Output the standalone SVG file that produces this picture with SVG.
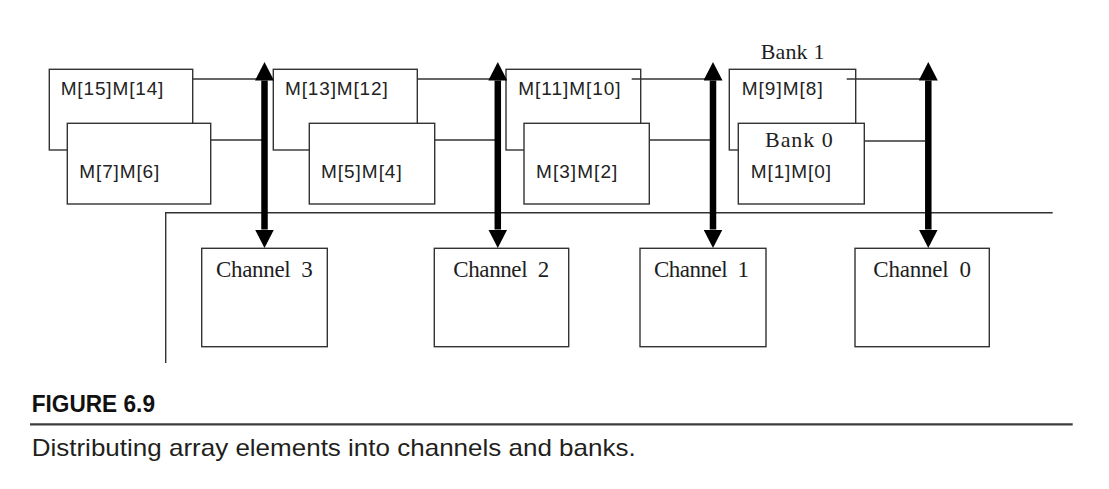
<svg xmlns="http://www.w3.org/2000/svg" width="1109" height="489" viewBox="0 0 1109 489">
  <style>
    .box { fill: #ffffff; stroke: #333333; stroke-width: 1.4; }
    .wire { fill: none; stroke: #333333; stroke-width: 1.4; }
    .bus { fill: none; stroke: #000000; stroke-width: 6.5; marker-start: url(#head); marker-end: url(#head); }
    .mlabel { font-family: "Liberation Sans", Arial, sans-serif; font-size: 19px; fill: #222222; }
    .serif { font-family: "Liberation Serif", "Times New Roman", serif; font-size: 23px; fill: #1e1e1e; white-space: pre; }
    .bank { font-family: "Liberation Serif", "Times New Roman", serif; font-size: 22px; fill: #1e1e1e; }
    .fig { font-family: "Liberation Sans", Arial, sans-serif; font-size: 24px; font-weight: bold; fill: #111111; }
    .cap { font-family: "Liberation Sans", Arial, sans-serif; font-size: 24px; fill: #231f20; }
  </style>
  <defs>
    <marker id="head" markerUnits="userSpaceOnUse" markerWidth="19" markerHeight="19" refX="0" refY="9.5" orient="auto-start-reverse" viewBox="0 0 19 19">
      <path d="M0,0 L18.5,9.5 L0,19 Z" fill="#000000"/>
    </marker>
  </defs>
  <rect width="1109" height="489" fill="#ffffff"/>

  <g id="m15m14">
    <rect class="box" x="49.3" y="69.3" width="143.4" height="80.7"/>
    <text class="mlabel" x="60.7" y="95" textLength="102.7">M[15]M[14]</text>
  </g>
  <g id="m7m6">
    <rect class="box" x="67.3" y="123.3" width="143.4" height="80.7"/>
    <text class="mlabel" x="79.3" y="178" textLength="80">M[7]M[6]</text>
  </g>
  <g id="m13m12">
    <rect class="box" x="273.3" y="69.3" width="144" height="80.7"/>
    <text class="mlabel" x="285" y="95" textLength="102.7">M[13]M[12]</text>
  </g>
  <g id="m5m4">
    <rect class="box" x="309.3" y="123.3" width="125.4" height="80.7"/>
    <text class="mlabel" x="321" y="177.5" textLength="80.7">M[5]M[4]</text>
  </g>
  <g id="m11m10">
    <rect class="box" x="506" y="69.3" width="134.7" height="80.7"/>
    <text class="mlabel" x="518.3" y="95" textLength="102.3">M[11]M[10]</text>
  </g>
  <g id="m3m2">
    <rect class="box" x="524" y="123.3" width="125.3" height="80.7"/>
    <text class="mlabel" x="536" y="177.5" textLength="81.3">M[3]M[2]</text>
  </g>
  <g id="bank1">
    <text class="bank" x="760.7" y="59.4" textLength="63.7">Bank 1</text>
    <rect class="box" x="729.3" y="69.3" width="126.4" height="80.7"/>
    <text class="mlabel" x="741.7" y="95" textLength="81">M[9]M[8]</text>
  </g>
  <g id="bank0">
    <rect class="box" x="738.3" y="123.3" width="126" height="80.7"/>
    <text class="bank" x="765" y="146.7" textLength="67.7">Bank 0</text>
    <text class="mlabel" x="750.7" y="178" textLength="80.3">M[1]M[0]</text>
  </g>

  <g id="channel3">
    <rect class="box" x="201.7" y="248.3" width="125.6" height="98.4"/>
    <text class="serif" x="216" y="277.3" textLength="96.7">Channel  3</text>
  </g>
  <g id="channel2">
    <rect class="box" x="434.3" y="248.3" width="134.4" height="98.4"/>
    <text class="serif" x="453.3" y="277.3" textLength="96">Channel  2</text>
  </g>
  <g id="channel1">
    <rect class="box" x="640" y="248.3" width="126" height="98.4"/>
    <text class="serif" x="654" y="277.3" textLength="95">Channel  1</text>
  </g>
  <g id="channel0">
    <rect class="box" x="855" y="248.3" width="134.3" height="98.4"/>
    <text class="serif" x="873.3" y="277.3" textLength="97.7">Channel  0</text>
  </g>

  <g id="connectors">
    <polyline class="wire" points="165.7,363 165.7,212.7 1052.7,212.7"/>
    <line class="wire" x1="192.7" y1="79" x2="262" y2="79"/>
    <line class="wire" x1="210.7" y1="140" x2="262" y2="140"/>
    <line class="wire" x1="417.3" y1="79" x2="495" y2="79"/>
    <line class="wire" x1="434.7" y1="140" x2="495" y2="140"/>
    <line class="wire" x1="631.7" y1="79" x2="710" y2="79"/>
    <line class="wire" x1="649.3" y1="140" x2="710" y2="140"/>
    <line class="wire" x1="846.7" y1="79" x2="925" y2="79"/>
    <line class="wire" x1="864.3" y1="141" x2="925" y2="141"/>
    <line class="bus" x1="264.5" y1="80.5" x2="264.5" y2="229.5"/>
    <line class="bus" x1="497.8" y1="80.5" x2="497.8" y2="229.5"/>
    <line class="bus" x1="713" y1="80.5" x2="713" y2="229.5"/>
    <line class="bus" x1="928.3" y1="80.5" x2="928.3" y2="229.5"/>
  </g>

  <g id="caption">
    <text class="fig" x="31.7" y="412.3" textLength="123.3" lengthAdjust="spacingAndGlyphs">FIGURE 6.9</text>
    <line x1="30" y1="424.3" x2="1072.7" y2="424.3" stroke="#3d3d3d" stroke-width="2.3"/>
    <text class="cap" x="31.7" y="456" textLength="604" lengthAdjust="spacingAndGlyphs">Distributing array elements into channels and banks.</text>
  </g>
</svg>
